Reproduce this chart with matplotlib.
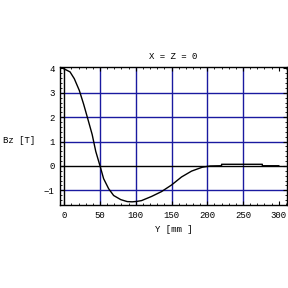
import matplotlib
matplotlib.use("Agg")
import matplotlib.pyplot as plt
from matplotlib.ticker import MultipleLocator

# field profile along Y
y_mm = [0, 2, 8, 14, 21, 27, 33, 39, 44, 50, 55, 62, 69, 79, 88, 95, 102, 108,
        122, 136, 150, 164, 178, 193, 204, 220, 220, 277, 277, 300]
bz = [3.97, 3.95, 3.86, 3.58, 3.1, 2.54, 1.92, 1.29, 0.6, 0.0, -0.52, -0.93,
      -1.21, -1.38, -1.46, -1.47, -1.45, -1.42, -1.25, -1.05, -0.78, -0.45,
      -0.21, -0.05, 0.0, 0.01, 0.07, 0.07, 0.01, 0.01]

x_ticks = [0, 50, 100, 150, 200, 250, 300]
y_ticks = [-1, 0, 1, 2, 3, 4]

grid_color = "#1a1aa0"
font = "Liberation Mono"

fig = plt.figure(figsize=(2.88, 2.88), dpi=100)
ax = fig.add_axes([60 / 288, 83 / 288, 227 / 288, 138 / 288])

for v in [50, 100, 150, 200, 250]:
    ax.axvline(v, color=grid_color, lw=1.0, zorder=1)
for v in [-1, 1, 2, 3]:
    ax.axhline(v, color=grid_color, lw=1.0, zorder=1)
ax.axvline(0, color="black", lw=1.0, zorder=1)
ax.axhline(0, color="black", lw=1.0, zorder=1)

ax.plot(y_mm, bz, color="black", lw=1.0, zorder=3)

ax.set_xlim(-6, 311.5)
ax.set_ylim(-1.6, 4.06)
ax.set_xticks(x_ticks)
ax.set_yticks(y_ticks)
ax.set_yticklabels(["\u22121", "0", "1", "2", "3", "4"])
ax.xaxis.set_minor_locator(MultipleLocator(10))
ax.yaxis.set_minor_locator(MultipleLocator(0.2))
ax.tick_params(which="both", direction="in", top=True, right=True,
               labelsize=6.5, labelfontfamily=font)
ax.tick_params(which="major", length=3, width=0.8, pad=4)
ax.tick_params(which="minor", length=1.5, width=0.6)
for s in ax.spines.values():
    s.set_linewidth(1.0)

ax.set_title("X = Z = 0", fontsize=6.5, family=font, pad=6)
ax.set_xlabel("Y [mm ]", fontsize=6.5, family=font, labelpad=4)
ax.set_ylabel("Bz [T]", fontsize=6.5, family=font, rotation=0,
              ha="right", va="center")
ax.yaxis.set_label_coords(-0.11, 0.47)

fig.savefig("out.png", dpi=100)
